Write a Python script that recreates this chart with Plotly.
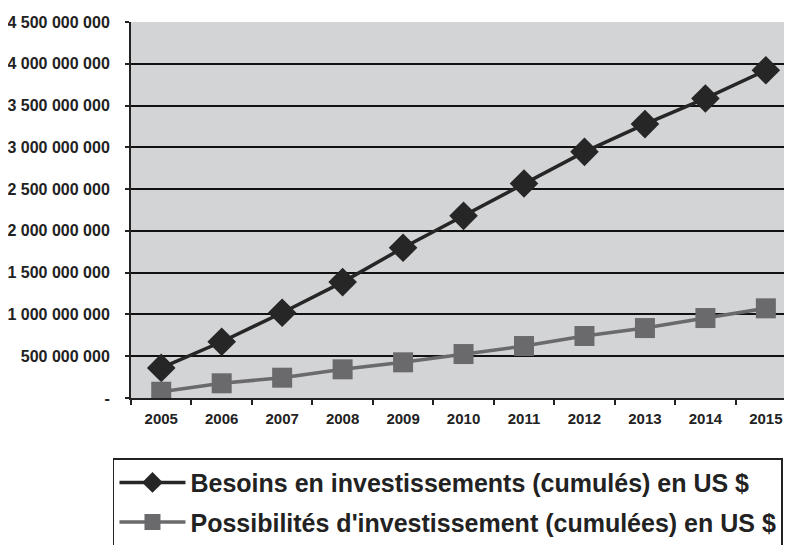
import plotly.graph_objects as go

years = ["2005", "2006", "2007", "2008", "2009", "2010", "2011", "2012", "2013", "2014", "2015"]
besoins = [360e6, 673e6, 1020e6, 1387e6, 1798e6, 2180e6, 2568e6, 2946e6, 3278e6, 3585e6, 3923e6]
possibilites = [75e6, 176e6, 243e6, 343e6, 427e6, 526e6, 622e6, 742e6, 837e6, 957e6, 1073e6]

y_tickvals = [0, 500e6, 1000e6, 1500e6, 2000e6, 2500e6, 3000e6, 3500e6, 4000e6, 4500e6]
y_ticktext = ["-", "500 000 000", "1 000 000 000", "1 500 000 000", "2 000 000 000",
              "2 500 000 000", "3 000 000 000", "3 500 000 000", "4 000 000 000", "4 500 000 000"]

name1 = "Besoins en investissements (cumulés) en US $"
name2 = "Possibilités d'investissement (cumulées) en US $"

font_family = "Liberation Sans, Arial, sans-serif"

fig = go.Figure()
fig.add_trace(go.Scatter(
    x=years, y=besoins, name=name1, mode="lines+markers", legendgroup="a",
    line=dict(color="#262626", width=3.5),
    marker=dict(symbol="diamond", size=22, color="#262626"),
))
fig.add_trace(go.Scatter(
    x=years, y=possibilites, name=name2, mode="lines+markers", legendgroup="b",
    line=dict(color="#6a6a6d", width=3.5),
    marker=dict(symbol="square", size=20, color="#6a6a6d"),
))

fig.update_layout(
    width=776, height=537,
    margin=dict(l=123, r=0, t=14, b=147, autoexpand=False),
    paper_bgcolor="white",
    plot_bgcolor="#d3d4d6",
    font=dict(family=font_family, color="#222222"),
    showlegend=True,
    legend=dict(
        x=-0.0276, y=-0.16, xanchor="left", yanchor="top",
        bgcolor="white", bordercolor="#222222", borderwidth=1.5,
        font=dict(size=25, family=font_family, color="#222222", weight="bold"),
        tracegroupgap=4, itemwidth=66,
    ),
)
fig.update_xaxes(
    type="category", range=[-0.5, 10.3], tickson="boundaries",
    ticks="outside", ticklen=5, tickcolor="#222222", tickwidth=1.5,
    showline=True, linecolor="#222222", linewidth=2,
    showgrid=False, ticklabelstandoff=6,
    tickfont=dict(size=15, family=font_family, color="#222222", weight="bold"),
)
fig.update_yaxes(
    range=[0, 4500e6], tickvals=y_tickvals, ticktext=y_ticktext,
    ticks="outside", ticklen=4, tickcolor="#222222", tickwidth=1.5,
    showline=True, linecolor="#222222", linewidth=2,
    showgrid=True, gridcolor="#111111", gridwidth=1.5,
    zeroline=False, ticklabelstandoff=12,
    tickfont=dict(size=16, family=font_family, color="#222222", weight="bold"),
)

fig.write_html("out.html")
